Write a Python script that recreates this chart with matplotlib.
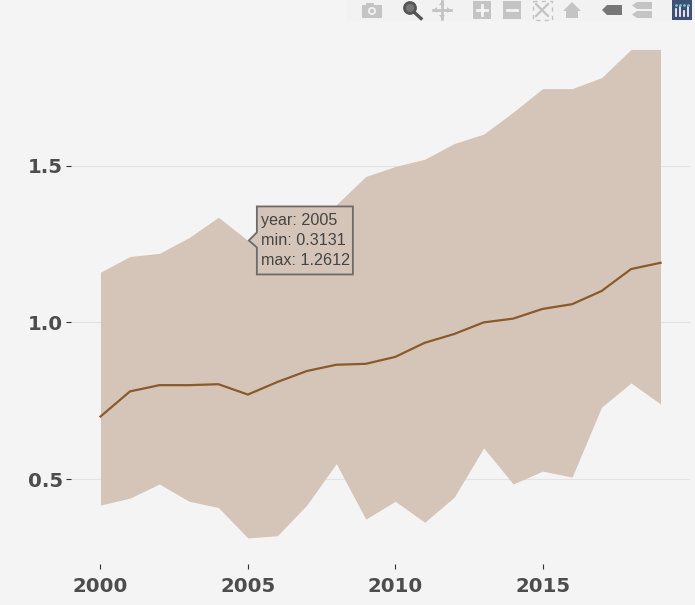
import numpy as np
from matplotlib import pyplot as plt
from matplotlib.patches import Rectangle, Circle, Polygon

years = list(range(2000, 2020))
val_mean = [0.70, 0.78, 0.80, 0.80, 0.803, 0.77, 0.81, 0.845, 0.865, 0.868,
            0.89, 0.935, 0.963, 1.00, 1.012, 1.043, 1.058, 1.10, 1.17, 1.19]
val_min = [0.418, 0.44, 0.485, 0.43, 0.41, 0.3131, 0.32, 0.418, 0.55, 0.373,
           0.43, 0.363, 0.443, 0.60, 0.485, 0.526, 0.507, 0.73, 0.807, 0.74]
val_max = [1.16, 1.21, 1.22, 1.27, 1.335, 1.2612, 1.29, 1.31, 1.375, 1.465,
           1.497, 1.52, 1.57, 1.60, 1.67, 1.745, 1.745, 1.78, 1.87, 1.87]

x_ticks = [2000, 2005, 2010, 2015]
y_ticks = [0.5, 1.0, 1.5]
hover_year = 2005

BG = '#f4f4f4'
W, H = 695, 605

fig = plt.figure(figsize=(W / 100, H / 100), dpi=100, facecolor=BG)
ax = fig.add_axes([71 / W, 1 - 564 / H, 619 / W, 524 / H], facecolor=BG)

# Band and mean line
ax.fill_between(years, val_min, val_max, color='#d4c5b8', lw=0, zorder=2)
ax.plot(years, val_mean, color='#8b5a2b', lw=1.6, zorder=4)

ax.set_xlim(1999, 2020)
ax.set_ylim(0.23, 1.90)
ax.set_xticks(x_ticks)
ax.set_yticks(y_ticks)
ax.set_yticklabels(['0.5', '1.0', '1.5'])
ax.grid(axis='y', color='#888888', alpha=0.15, lw=0.8, zorder=3)
ax.tick_params(axis='x', length=3.5, width=0.8, color='#333333', pad=6, labelcolor='#4d4d4d')
ax.tick_params(axis='y', length=3.5, width=0.8, color='#333333', pad=2.5, labelcolor='#4d4d4d')
for lab in ax.get_xticklabels() + ax.get_yticklabels():
    lab.set_fontsize(14.2)
    lab.set_fontweight('bold')
for s in ax.spines.values():
    s.set_visible(False)

# Overlay in pixel coordinates for hover label and modebar
bar = fig.add_axes([0, 0, 1, 1], facecolor='none')
bar.set_xlim(0, W)
bar.set_ylim(H, 0)
bar.axis('off')

# Hover label, anchored on the hovered point
i = years.index(hover_year)
hover = 'year: %d\nmin: %.4f\nmax: %.4f' % (hover_year, val_min[i], val_max[i])
px, py = ax.transData.transform((hover_year, val_max[i]))
py = H - py
bar.add_patch(Polygon([(px + 1, py), (px + 9, py - 8), (px + 9, py - 34), (px + 105, py - 34),
                       (px + 105, py + 34), (px + 9, py + 34), (px + 9, py + 7)],
                      fc='#d4c5b8', ec='#6b6b6b', lw=1.3, zorder=5))
bar.text(px + 13, py, hover, ha='left', va='center', fontsize=11.6, family='Liberation Sans',
         color='#444444', linespacing=1.4, zorder=6)

bar.add_patch(Rectangle((347, 0), 343, 21, fc='#f2f2f2', ec='none'))
light = '#c4c4c4'

# camera
bar.add_patch(Rectangle((362, 5), 20, 13, fc=light, ec='none'))
bar.add_patch(Rectangle((366, 2.5), 8, 3, fc=light, ec='none'))
bar.add_patch(Circle((372, 11), 4, fc=BG, ec='none'))
bar.add_patch(Circle((372, 11), 2.2, fc=light, ec='none'))
# zoom, active
bar.add_patch(Circle((410, 8), 5.5, fc='#777777', ec='#555555', lw=2))
bar.plot([415, 421], [13, 18.5], color='#555555', lw=2.4)
# pan
bar.plot([433, 451], [10, 10], color=light, lw=2)
bar.plot([442, 442], [1, 19], color=light, lw=2)
for pts in ([(433, 10), (437, 7), (437, 13)], [(451, 10), (447, 7), (447, 13)],
            [(442, 1), (439, 5), (445, 5)], [(442, 19), (439, 15), (445, 15)]):
    bar.add_patch(Polygon(pts, fc=light, ec='none'))
# zoom in, zoom out
for x0 in (473, 503):
    bar.add_patch(Rectangle((x0, 1), 18, 18, fc=light, ec='none'))
    bar.plot([x0 + 4, x0 + 14], [10, 10], color=BG, lw=2)
bar.plot([482, 482], [5, 15], color=BG, lw=2)
# autoscale
bar.plot([536, 548], [4, 16], color=light, lw=1.6)
bar.plot([536, 548], [16, 4], color=light, lw=1.6)
bar.add_patch(Rectangle((533, 0.5), 19, 19, fc='none', ec=light, lw=1, ls=(0, (3, 3))))
# home
bar.add_patch(Polygon([(563, 11), (572, 2), (581, 11), (578, 11), (578, 18), (566, 18), (566, 11)],
                      fc=light, ec='none'))
# hover closest
bar.add_patch(Polygon([(602, 10), (607, 5), (622, 5), (622, 15), (607, 15)], fc='#777777', ec='none'))
# hover compare
for y0 in (2, 11):
    bar.add_patch(Polygon([(632, y0 + 3.5), (637, y0), (652, y0), (652, y0 + 7), (637, y0 + 7)],
                          fc=light, ec='none'))
# logo
bar.add_patch(Rectangle((672, 0), 20, 20, fc='#3f4f75', ec='none'))
for k, top in enumerate([9, 7, 11, 7]):
    bar.plot([676 + 4 * k] * 2, [top, 16], color='white', lw=1.2)
    bar.plot([676 + 4 * k], [5], '.', color='#69c7b8', ms=2)

fig.savefig('out.png', dpi=100, facecolor=BG)
